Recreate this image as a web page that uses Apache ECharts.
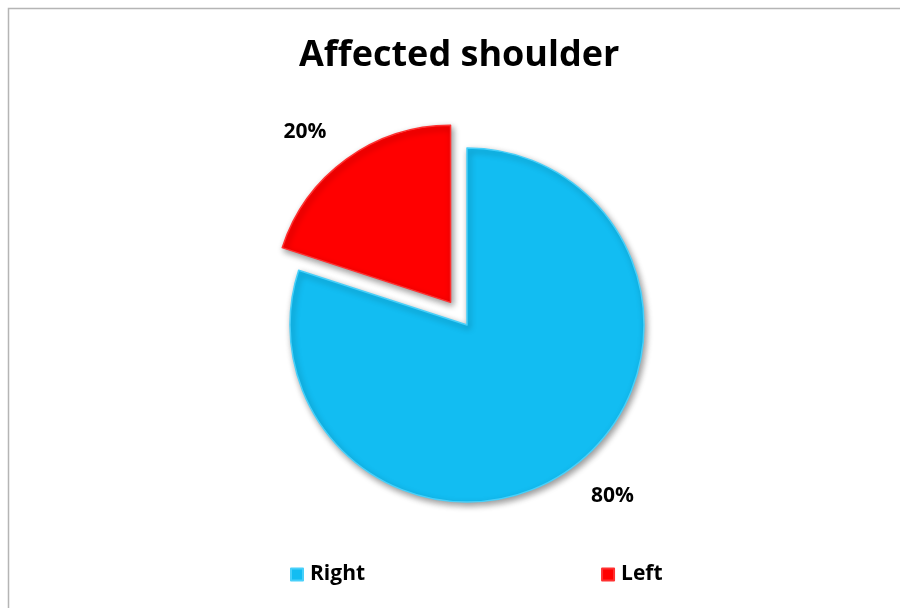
<!DOCTYPE html>
<html>
<head>
<meta charset="utf-8">
<script src="https://cdn.jsdelivr.net/npm/echarts@6/dist/echarts.min.js"></script>
<style>
  html, body { margin: 0; padding: 0; background: #fff; }
  #chart { width: 900px; height: 608px; }
</style>
</head>
<body>
<div id="chart"></div>
<script>
// Side of the affected shoulder, share of patients (%)
const categories = ['Right', 'Left'];
const shares = [80, 20];
const sliceColors = ['#12BDF2', '#FF0000'];
const edgeColors = ['#48D0FA', '#FF3030'];
const explodedSlice = 'Left';

const chart = echarts.init(document.getElementById('chart'), null, { renderer: 'canvas' });

const pieData = categories.map((name, i) => ({
  name: name,
  value: shares[i],
  selected: name === explodedSlice,
  itemStyle: {
    color: sliceColors[i],
    borderColor: edgeColors[i],
    borderWidth: 1.5
  }
}));

chart.setOption({
  backgroundColor: '#ffffff',
  animation: false,
  title: {
    text: 'Affected shoulder',
    left: 294,
    top: 33,
    textStyle: {
      fontFamily: 'Open Sans',
      fontWeight: 'bold',
      fontSize: 36,
      color: '#000'
    }
  },
  legend: {
    bottom: 18,
    left: 285,
    itemGap: 236,
    itemWidth: 12,
    itemHeight: 12,
    icon: 'rect',
    textStyle: {
      fontFamily: 'Open Sans',
      fontWeight: 'bold',
      fontSize: 21,
      color: '#000',
      padding: [0, 0, 0, 2]
    },
    data: categories
  },
  graphic: [
    {
      type: 'polyline',
      shape: { points: [[8.5, 608], [8.5, 8.5], [900, 8.5]] },
      style: { stroke: '#b5b5b5', lineWidth: 1.5, fill: null },
      silent: true
    }
  ],
  series: [
    {
      type: 'pie',
      center: [467, 325],
      radius: 177,
      startAngle: 90,
      clockwise: true,
      selectedMode: 'single',
      selectedOffset: 28,
      itemStyle: {
        shadowBlur: 6,
        shadowColor: 'rgba(0,0,0,0.4)',
        shadowOffsetX: 2,
        shadowOffsetY: 3
      },
      label: {
        show: true,
        position: 'outside',
        formatter: '{c}%',
        fontFamily: 'Open Sans',
        fontWeight: 'bold',
        fontSize: 21,
        color: '#000',
        distanceToLabelLine: 0
      },
      labelLine: { show: false, length: 34, length2: 0 },
      emphasis: { disabled: true },
      data: pieData
    }
  ]
});
</script>
</body>
</html>
